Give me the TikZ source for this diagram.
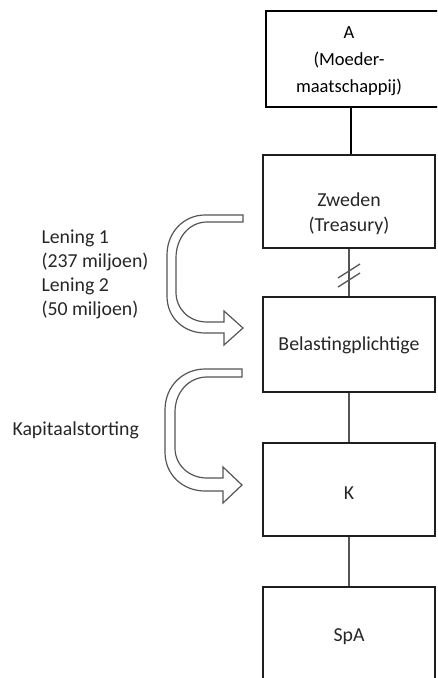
\documentclass[tikz,border=0pt]{standalone}
\usepackage{fontspec}
\setmainfont{Carlito}
\usepackage{xcolor}
\usetikzlibrary{positioning, calc}

\definecolor{boxline}{HTML}{1E1E1E}
\definecolor{thinline}{HTML}{555555}
\definecolor{txtgray}{HTML}{262626}

\begin{document}
\begin{tikzpicture}[x=1pt, y=-1pt,
    box/.style={draw=boxline, line width=2.5pt, minimum width=172pt, inner sep=0pt},
    txt/.style={text=txtgray, align=center, font=\fontsize{19.8}{25}\selectfont},
    lefttxt/.style={text=txtgray, align=left, font=\fontsize{19.8}{24}\selectfont, anchor=west},
    link/.style={draw=thinline, line width=1.3pt},
    hollow/.style={draw=thinline, line width=1.2pt, line join=miter}]

    % ================= frame =================
    \useasboundingbox (0,0) rectangle (437,678);
    \clip (0,0) rectangle (437,678);

    % ================= boxes =================
    \node[box, draw=black, line width=2.8pt, minimum width=175pt, minimum height=96pt] (A) at (353.5,59) {};
    \node[box, minimum height=93pt] (zw)  at (349,201.5) {};
    \node[box, minimum height=95pt] (bel) at (349,344.5) {};
    \node[box, minimum height=93pt] (K)   at (349,489.5) {};
    \node[box, minimum height=100pt] (spa) at (349,637) {};

    % ================= box texts =================
    \node[align=center, font=\fontsize{18.5}{27}\selectfont] (Atxt) at (349,61) {A\\(Moeder-\\maatschappij)};
    \node[txt] (zwtxt)  at (349,214) {Zweden\\(Treasury)};
    \node[txt] (beltxt) at (349,345) {Belastingplichtige};
    \node[txt] (Ktxt)   at (349,493) {K};
    \node[txt] (spatxt) at (349,637) {SpA};

    % ================= left texts =================
    \node[lefttxt] (lening) at (38,274) {Lening 1\\(237 miljoen)\\Lening 2\\(50 miljoen)};
    \node[lefttxt] (kap) at (9,430) {Kapitaalstorting};

    % ================= connections =================
    \draw[black, line width=2.8pt] (zw.north) ++(2,0) coordinate (zwtop) -- (zwtop |- A.south);
    \draw[link] (zw.south) -- (bel.north);
    \draw[link] (bel.south) -- (K.north);
    \draw[link] (K.south) -- (spa.north);

    % double slash on the Zweden - Belastingplichtige line
    \draw[link] (338,278) -- (360,264);
    \draw[link] (338,287) -- (360,273);

    % ================= hollow U-arrows =================
    % lening
    \draw[hollow] (243,215) -- (205,215) .. controls (184,215) and (167,232) .. (167,255)
        -- (167,296) .. controls (167,318) and (184,333) .. (205,333)
        -- (224,333) -- (224,345) -- (243,328) -- (224,311) -- (224,322) -- (207,322)
        .. controls (189,322) and (176,309) .. (176,292)
        -- (176,258) .. controls (176,238) and (189,222) .. (207,222) -- (243,222) -- cycle;

    % kapitaalstorting
    \draw[hollow] (242,369) -- (205,369) .. controls (183,369) and (165,386) .. (165,410)
        -- (165,452) .. controls (165,475) and (183,491) .. (205,491)
        -- (223,491) -- (223,503) -- (242,485) -- (223,467) -- (223,478) -- (207,478)
        .. controls (189,478) and (175,465) .. (175,448)
        -- (175,412) .. controls (175,392) and (189,377) .. (207,377) -- (242,377) -- cycle;

\end{tikzpicture}
\end{document}
